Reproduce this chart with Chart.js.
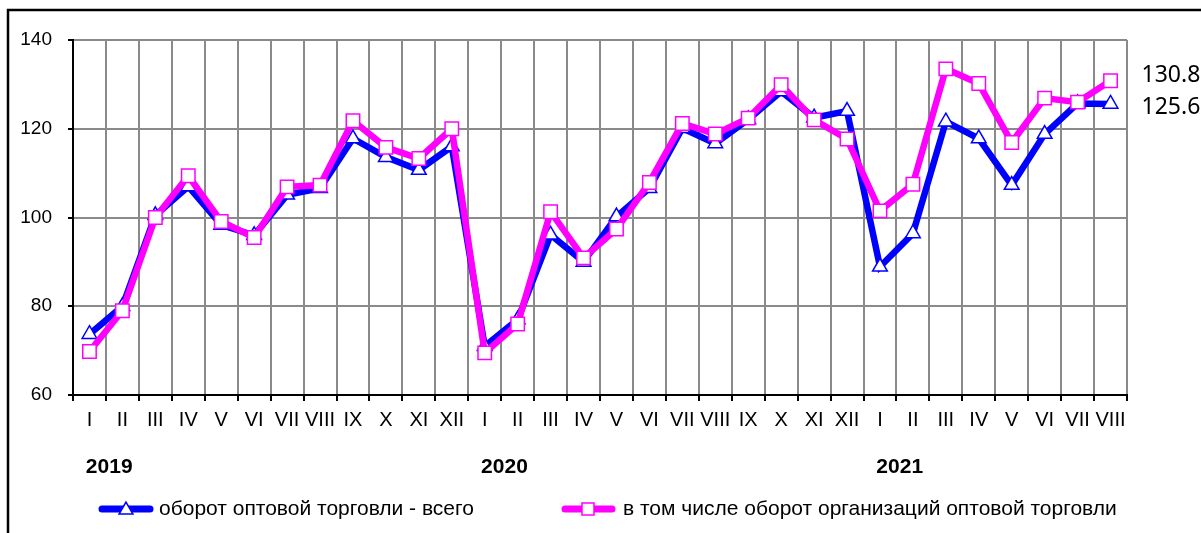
<!DOCTYPE html>
<html><head><meta charset="utf-8">
<script src="https://cdn.jsdelivr.net/npm/chart.js@4.4.1/dist/chart.umd.min.js"></script>
<style>html,body{margin:0;padding:0;background:#fff;}#wrap{width:1201px;height:533px;position:relative;}</style>
</head><body><div id="wrap"><canvas id="c" width="1201" height="533"></canvas></div>
<script>
const categories = ['I','II','III','IV','V','VI','VII','VIII','IX','X','XI','XII',
                    'I','II','III','IV','V','VI','VII','VIII','IX','X','XI','XII',
                    'I','II','III','IV','V','VI','VII','VIII'];
const totalTurnover = [73.7, 80.0, 100.5, 107.0, 98.3, 96.0, 105.1, 106.6, 117.8, 113.6, 110.7, 116.0,
                       71.0, 77.0, 96.1, 90.0, 100.2, 106.6, 120.1, 116.7, 122.1, 128.4, 122.5, 124.0,
                       88.9, 96.4, 121.6, 117.8, 107.3, 118.8, 125.7, 125.6];
const orgTurnover = [69.8, 79.0, 100.0, 109.4, 99.1, 95.5, 106.9, 107.3, 121.8, 115.8, 113.3, 120.0,
                     69.5, 76.0, 101.3, 90.9, 97.4, 107.9, 121.2, 118.8, 122.4, 129.9, 122.0, 117.7,
                     101.5, 107.5, 133.5, 130.2, 116.9, 126.9, 126.0, 130.8];
const years = ['2019', '2020', '2021'];
const yearStartIndex = [0, 12, 24];
const seriesNames = ['оборот оптовой торговли - всего', 'в том числе оборот организаций оптовой торговли'];
const yTicks = [60, 80, 100, 120, 140];

const BLUE = '#0000ff', MAG = '#ff00ff', GRID = '#8a8a8a';
const FONT = "'Liberation Sans', Arial, sans-serif";

function drawTri(ctx, x, y, r, color) {
  ctx.save();
  ctx.beginPath();
  ctx.moveTo(x, y - r);
  ctx.lineTo(x + r * Math.cos(Math.PI / 6), y + r * 0.5);
  ctx.lineTo(x - r * Math.cos(Math.PI / 6), y + r * 0.5);
  ctx.closePath();
  ctx.fillStyle = '#fff'; ctx.fill();
  ctx.lineWidth = 1.5; ctx.strokeStyle = color; ctx.stroke();
  ctx.restore();
}
function drawSq(ctx, x, y, s, color) {
  ctx.save();
  ctx.fillStyle = '#fff'; ctx.fillRect(x - s / 2, y - s / 2, s, s);
  ctx.lineWidth = 1.5; ctx.strokeStyle = color; ctx.strokeRect(x - s / 2, y - s / 2, s, s);
  ctx.restore();
}

const extras = {
  id: 'extras',
  beforeDraw(chart) {
    const ctx = chart.ctx;
    ctx.save(); ctx.fillStyle = '#fff'; ctx.fillRect(0, 0, chart.width, chart.height); ctx.restore();
  },
  afterDraw(chart) {
    const ctx = chart.ctx;
    const xs = chart.scales.x;
    ctx.save();
    // frame
    ctx.strokeStyle = '#000'; ctx.lineWidth = 2.5;
    ctx.beginPath(); ctx.moveTo(8, 533); ctx.lineTo(8, 10); ctx.lineTo(1201, 10); ctx.stroke();
    // years
    const cw = xs.getPixelForValue(1) - xs.getPixelForValue(0);
    ctx.fillStyle = '#000'; ctx.font = "bold 21px " + FONT;
    ctx.textAlign = 'center'; ctx.textBaseline = 'middle';
    years.forEach((yr, i) => {
      ctx.fillText(yr, xs.getPixelForValue(yearStartIndex[i]) + 0.6 * cw, 467);
    });
    // last value labels
    ctx.font = "23px 'Noto Sans', sans-serif"; ctx.textAlign = 'left';
    [[1, -5], [0, 4]].forEach(([di, dy]) => {
      const meta = chart.getDatasetMeta(di);
      const pt = meta.data[meta.data.length - 1];
      const v = chart.data.datasets[di].data[meta.data.length - 1];
      ctx.fillText(v.toFixed(1), pt.x + 31, pt.y + dy);
    });
    // legend
    const ly = 509;
    ctx.font = "21px " + FONT; ctx.textAlign = 'left'; ctx.textBaseline = 'middle';
    ctx.lineCap = 'round'; ctx.lineWidth = 7;
    ctx.strokeStyle = BLUE; ctx.beginPath(); ctx.moveTo(102, ly); ctx.lineTo(150, ly); ctx.stroke();
    drawTri(ctx, 126, ly + 1, 8, BLUE);
    ctx.fillText(seriesNames[0], 159, ly);
    ctx.strokeStyle = MAG; ctx.beginPath(); ctx.moveTo(565, ly); ctx.lineTo(612, ly); ctx.stroke();
    drawSq(ctx, 588, ly, 12, MAG);
    ctx.fillStyle = '#000';
    ctx.fillText(seriesNames[1], 623, ly);
    ctx.restore();
  }
};

new Chart(document.getElementById('c'), {
  type: 'line',
  data: {
    labels: categories,
    datasets: [
      { label: seriesNames[0], data: totalTurnover, borderColor: BLUE, borderWidth: 6.5,
        pointStyle: 'triangle', pointRadius: 8.5, pointBorderWidth: 1.5,
        pointBackgroundColor: '#fff', pointBorderColor: BLUE, tension: 0, order: 2 },
      { label: seriesNames[1], data: orgTurnover, borderColor: MAG, borderWidth: 6.5,
        pointStyle: 'rect', pointRadius: 9.5, pointBorderWidth: 1.5,
        pointBackgroundColor: '#fff', pointBorderColor: MAG, tension: 0, order: 1 }
    ]
  },
  options: {
    responsive: false, animation: false, devicePixelRatio: 1,
    layout: { padding: { left: 0, right: 74, top: 40, bottom: 0 } },
    plugins: { legend: { display: false }, tooltip: { enabled: false } },
    scales: {
      x: {
        offset: true,
        grid: { offset: true, color: GRID, lineWidth: 2, tickColor: '#000', tickLength: 6, tickWidth: 2 },
        border: { color: '#000', width: 2 },
        ticks: { autoSkip: false, maxRotation: 0, minRotation: 0, color: '#000',
                 font: { family: FONT, size: 20 }, padding: 7 },
        afterFit(s) { s.height = 138; }
      },
      y: {
        min: 60, max: 140,
        afterBuildTicks(s) { s.ticks = yTicks.map(v => ({ value: v })); },
        grid: { color: GRID, lineWidth: 2, tickColor: '#000', tickLength: 5, tickWidth: 2 },
        border: { color: '#000', width: 2 },
        ticks: { color: '#000', font: { family: FONT, size: 19 }, padding: 16 },
        afterFit(s) { s.width = 73; }
      }
    }
  },
  plugins: [extras]
});
</script></body></html>
